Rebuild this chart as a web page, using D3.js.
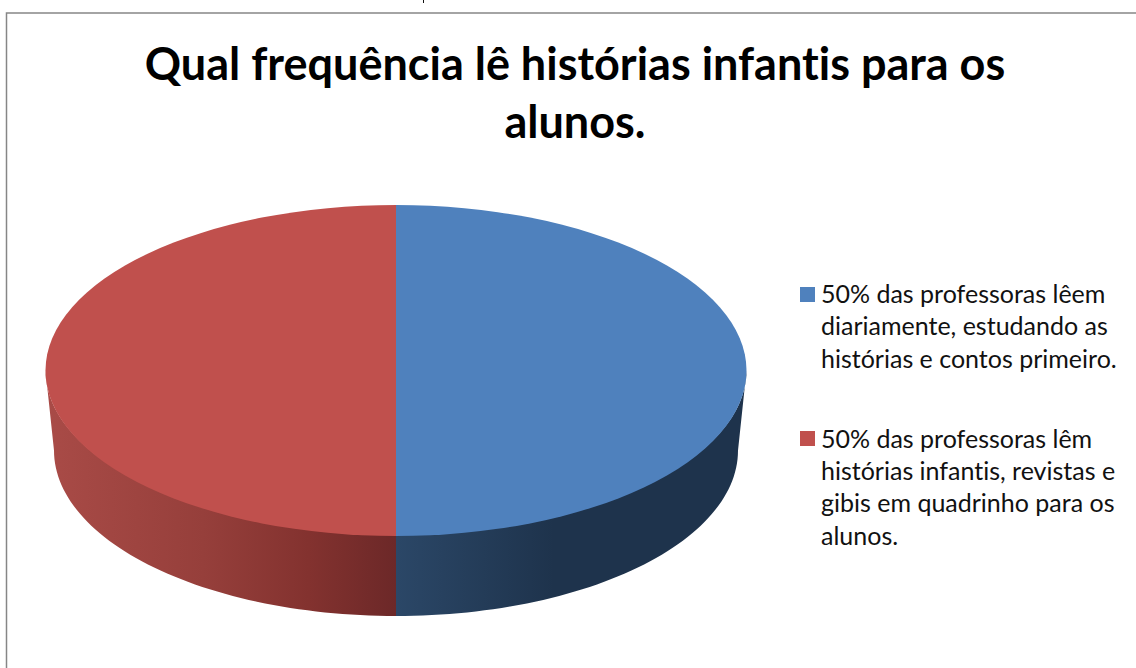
<!DOCTYPE html>
<html>
<head>
<meta charset="utf-8">
<title>Qual frequência</title>
<script src="https://d3js.org/d3.v7.min.js"></script>
<style>
  html, body { margin: 0; padding: 0; background: #fff; overflow: hidden; }
  svg { display: block; font-family: Lato, "Open Sans", sans-serif; font-variant-ligatures: none; }
</style>
</head>
<body>
<svg class="chart" width="1136" height="668"></svg>
<script>
// Data
const titleLines = ["Qual frequência lê histórias infantis para os", "alunos."];
const categories = ["Diariamente", "Histórias, revistas e gibis"];
const values = [50, 50];
const colors = ["#4f81bd", "#c0504d"];
const legendLines = [
    ["50% das professoras lêem", "diariamente, estudando as", "histórias e contos primeiro."],
    ["50% das professoras lêm", "histórias infantis, revistas e", "gibis em quadrinho para os", "alunos."]
];

const svg = d3.select("svg.chart");

// Pie geometry
const cx = 396, topY = 370.5, rx = 350.5, ry = 165.5;
const bottomY = 450.5, bottomRx = 342, bottomRy = 165.5;

// frame around the chart + the bit of text cut off above it
svg.append("rect")
    .attr("x", 6.5).attr("y", 13)
    .attr("width", 1140).attr("height", 670)
    .attr("fill", "#fff")
    .attr("stroke", "#868686")
    .attr("stroke-width", 1.5);
svg.append("line")
    .attr("x1", 423.5).attr("x2", 423.5)
    .attr("y1", 0).attr("y2", 3)
    .attr("stroke", "#111");

// Title
svg.append("g").selectAll("text")
    .data(titleLines)
    .enter().append("text")
    .attr("x", 575)
    .attr("y", (d, i) => 79.5 + i * 58.3)
    .attr("text-anchor", "middle")
    .attr("font-size", 45)
    .attr("font-weight", 700)
    .attr("fill", "#000")
    .text(d => d);

// Gradients for the side wall
const defs = svg.append("defs");
const redGrad = defs.append("linearGradient")
    .attr("id", "sideRed")
    .attr("gradientUnits", "userSpaceOnUse")
    .attr("x1", cx - rx).attr("x2", cx).attr("y1", 0).attr("y2", 0);
[[0, "#a94b47"], [0.45, "#963f3b"], [0.75, "#83322f"], [1, "#6c2828"]].forEach(s =>
    redGrad.append("stop").attr("offset", s[0]).attr("stop-color", s[1]));
const blueGrad = defs.append("linearGradient")
    .attr("id", "sideBlue")
    .attr("gradientUnits", "userSpaceOnUse")
    .attr("x1", cx).attr("x2", cx + rx).attr("y1", 0).attr("y2", 0);
[[0, "#2b4767"], [0.45, "#1e334c"], [1, "#1e334c"]].forEach(s =>
    blueGrad.append("stop").attr("offset", s[0]).attr("stop-color", s[1]));

// d3.pie angles start at 12 o'clock going clockwise
const pie = d3.pie().sort(null).value(d => d)(values);
const arc = d3.arc().innerRadius(0).outerRadius(rx);

// upper edge of the wall sits a little under the top face so no white seam shows
const ptTop = a => [cx + rx * Math.sin(a), topY - (ry - 2) * Math.cos(a)];
const ptBottom = a => [cx + bottomRx * Math.sin(a), bottomY - bottomRy * Math.cos(a)];
const line = d3.line();

// Side wall of a slice, only the part that faces the viewer
function sidePath(d) {
    const a0 = Math.max(d.startAngle, Math.PI / 2);
    const a1 = Math.min(d.endAngle, 3 * Math.PI / 2);
    const steps = d3.range(0, 61).map(i => a0 + (a1 - a0) * i / 60);
    return line(steps.map(ptTop).concat(steps.slice().reverse().map(ptBottom))) + "Z";
}

svg.append("g").selectAll("path")
    .data(pie)
    .enter().append("path")
    .attr("d", sidePath)
    .attr("fill", (d, i) => i == 0 ? "url(#sideBlue)" : "url(#sideRed)");

// Top face
svg.append("g")
    .attr("transform", "translate(" + cx + "," + topY + ") scale(1," + (ry / rx) + ")")
    .selectAll("path")
    .data(pie)
    .enter().append("path")
    .attr("d", arc)
    .attr("fill", (d, i) => colors[i]);

// Legend
const legendTop = [303, 447.5];
const legend = svg.append("g").selectAll("g")
    .data(legendLines)
    .enter().append("g");
legend.append("rect")
    .attr("x", 800).attr("y", (d, i) => Math.floor(legendTop[i]) - 16)
    .attr("width", 15).attr("height", 15)
    .attr("fill", (d, i) => colors[i]);
legend.each(function(lines, i) {
    d3.select(this).selectAll("text")
        .data(lines)
        .enter().append("text")
        .attr("x", 821)
        .attr("y", (d, j) => legendTop[i] + j * 32.4)
        .attr("font-size", 25)
        .attr("fill", "#111")
        .text(d => d);
});
</script>
</body>
</html>
